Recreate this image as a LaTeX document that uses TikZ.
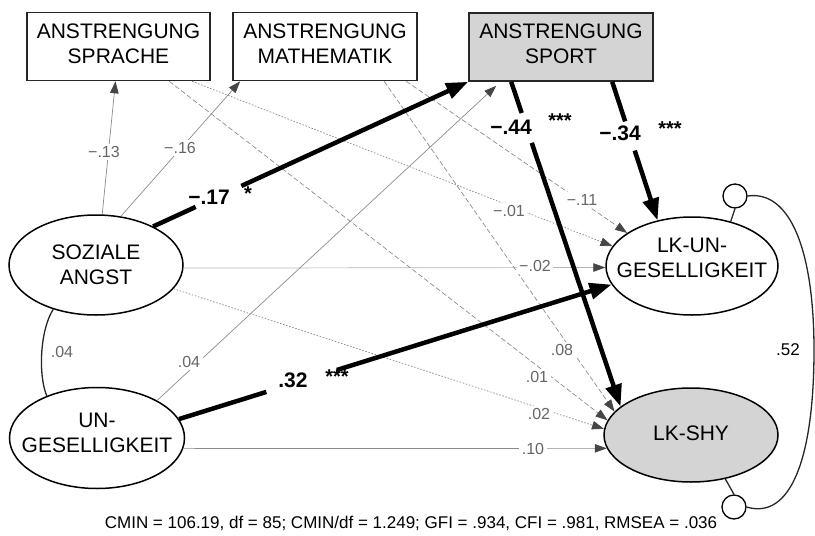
\documentclass[tikz,border=0pt]{standalone}
\usepackage{fontspec}
\setmainfont{Liberation Sans}
\usetikzlibrary{shapes.geometric,arrows.meta,calc}
\definecolor{boxgray}{HTML}{D4D4D4}
\definecolor{linegray}{HTML}{8C8C8C}
\definecolor{faintgray}{HTML}{B4B4B4}
\definecolor{labgray}{HTML}{666666}
\definecolor{tipgray}{HTML}{454545}
\tikzset{
  box/.style={draw=black!85,line width=1.6pt,minimum width=#1,minimum height=68pt,inner sep=0pt},
  ell/.style={ellipse,draw=black,line width=1.5pt,inner sep=0pt},
  errc/.style={circle,draw=black,line width=1.3pt,minimum size=24pt,inner sep=0pt},
  vname/.style={font=\fontsize{21}{25}\selectfont,align=center,inner sep=0pt},
  thinsolid/.style={draw=linegray,line width=0.7pt,-{Triangle[length=12pt,width=8.5pt,color=tipgray]}},
  thinfaint/.style={thinsolid,draw=faintgray},
  thindash/.style={thinsolid,dash pattern=on 5pt off 2.5pt},
  thindot/.style={thinsolid,dash pattern=on 1.6pt off 1.6pt},
  heavy/.style={draw=black,line width=4.5pt,line cap=butt},
  heavyarrow/.style={heavy,-{Triangle[length=22pt,width=16pt]}},
  glab/.style={font=\fontsize{16}{16}\selectfont,text=labgray,fill=white,inner sep=2.5pt},
  blab/.style={font=\bfseries\fontsize{21}{21}\selectfont,inner sep=0pt},
  stars/.style={font=\bfseries\fontsize{20}{20}\selectfont,inner sep=0pt},
  corr/.style={draw=black!85,line width=1.3pt},
}
\begin{document}
\begin{tikzpicture}[x=1pt,y=-1pt]
\useasboundingbox (0,0) rectangle (815,536);

% observed variables (boxes)
\node[box=183pt] (spr) at (118.5,46.5) {};
\node[box=184pt] (mat) at (325,46.5) {};
\node[box=184pt,fill=boxgray] (spo) at (561,47) {};
\node[vname] (tspr) at (118.5,44) {ANSTRENGUNG\\SPRACHE};
\node[vname] (tmat) at (325,44) {ANSTRENGUNG\\MATHEMATIK};
\node[vname] (tspo) at (561,44) {ANSTRENGUNG\\SPORT};

% latent variables (ellipses)
\node[ell,minimum width=174pt,minimum height=100pt] (sa) at (96,265) {};
\node[ell,minimum width=175pt,minimum height=101pt] (ug) at (97,438) {};
\node[ell,minimum width=172pt,minimum height=98pt] (lku) at (692,266) {};
\node[ell,minimum width=174pt,minimum height=94pt,fill=boxgray] (lks) at (691,435) {};
\node[vname] (tsa) at (96,265) {SOZIALE\\ANGST};
\node[vname] (tug) at (97,432.5) {UN-\\GESELLIGKEIT};
\node[vname] (tlku) at (692,258) {LK-UN-\\GESELLIGKEIT};
\node[vname] (tlks) at (691,433.5) {LK-SHY};

% residual terms
\node[errc] (e1) at (735,196) {};
\node[errc] (e2) at (734,507) {};
\draw[corr] (e1.south) -- (lku.49);
\draw[corr] (e2.north) -- (lks.-52);
\draw[corr] (e1.east) .. controls (790,190) and (814,250) .. (814,350)
                      .. controls (814,460) and (790,520) .. (e2.east);
\node[font=\fontsize{17}{17}\selectfont,inner sep=0pt] (r52) at (788,350) {.52};

% correlation of the predictors
\draw[corr] (sa.226) .. controls (40,330) and (38,375) .. (ug.140);

% weak paths
\draw[thinsolid] (sa.83) -- ([xshift=-3pt]spr.south);
\draw[thinsolid] (sa.63) -- ([xshift=8pt]mat.south west);
\draw[thinfaint] (sa.-2) -- (lku.181);
\draw[thindot] (sa.-17) -- (lks.176);
\draw[thinsolid] (ug.32) -- ([xshift=28pt,yshift=-4pt]spo.south west);
\draw[thinsolid] (ug.-7) -- (lks.189);
\draw[thindot] ([xshift=166pt]spr.south west) -- (lku.166);
\draw[thindash] ([xshift=143pt]spr.south west) -- (lks.170);
\draw[thindash] ([xshift=174pt]mat.south west) -- (lku.153);
\draw[thindash] ([xshift=152pt]mat.south west) -- (lks.163);

% labels of the weak paths
\node[glab] (l13) at (104,152) {−.13};
\node[glab] (l16) at (180,148) {−.16};
\node[glab] (l01a) at (509,211) {−.01};
\node[glab] (l11) at (582,200) {−.11};
\node[glab] (l02a) at (535,266) {−.02};
\node[glab] (l08) at (562,350) {.08};
\node[glab] (l01b) at (537,377) {.01};
\node[glab] (l02b) at (539,414) {.02};
\node[glab] (l10) at (533,449) {.10};
\node[glab] (l04a) at (189,362) {.04};
\node[glab,fill=none] (l04b) at (62,352) {.04};

% significant paths, interrupted by their coefficients
\coordinate (s1) at (sa.34);
\coordinate (s2) at ([xshift=43pt]spo.south west);
\coordinate (s3) at ([xshift=144pt]spo.south west);
\coordinate (s4) at (ug.13);
\draw[heavy] (s1) -- ($(s1)!0.135!(spo.south west)$);
\draw[heavyarrow] ($(s1)!0.28!(spo.south west)$) -- (spo.south west);
\draw[heavy] (s2) -- ($(s2)!0.096!(lks.158)$);
\draw[heavyarrow] ($(s2)!0.188!(lks.158)$) -- (lks.158);
\draw[heavy] (s3) -- ($(s3)!0.286!(lku.127)$);
\draw[heavyarrow] ($(s3)!0.496!(lku.127)$) -- (lku.127);
\draw[heavy] (s4) -- ($(s4)!0.202!(lku.193)$);
\draw[heavyarrow] ($(s4)!0.365!(lku.193)$) -- (lku.193);

\node[blab] (b17) at (209,197) {−.17};
\node[stars] (st17) at (248,194) {*};
\node[blab] (b44) at (511,127) {−.44};
\node[stars] (st44) at (560,121) {***};
\node[blab] (b34) at (620,133) {−.34};
\node[stars] (st34) at (670,129) {***};
\node[blab] (b32) at (293,380) {.32};
\node[stars] (st32) at (337,377) {***};

% fit indices
\node[anchor=base,font=\fontsize{17}{17}\selectfont,inner sep=0pt] (fit) at (411,528)
  {CMIN = 106.19, df = 85; CMIN/df = 1.249; GFI = .934, CFI = .981, RMSEA = .036};
\end{tikzpicture}
\end{document}
